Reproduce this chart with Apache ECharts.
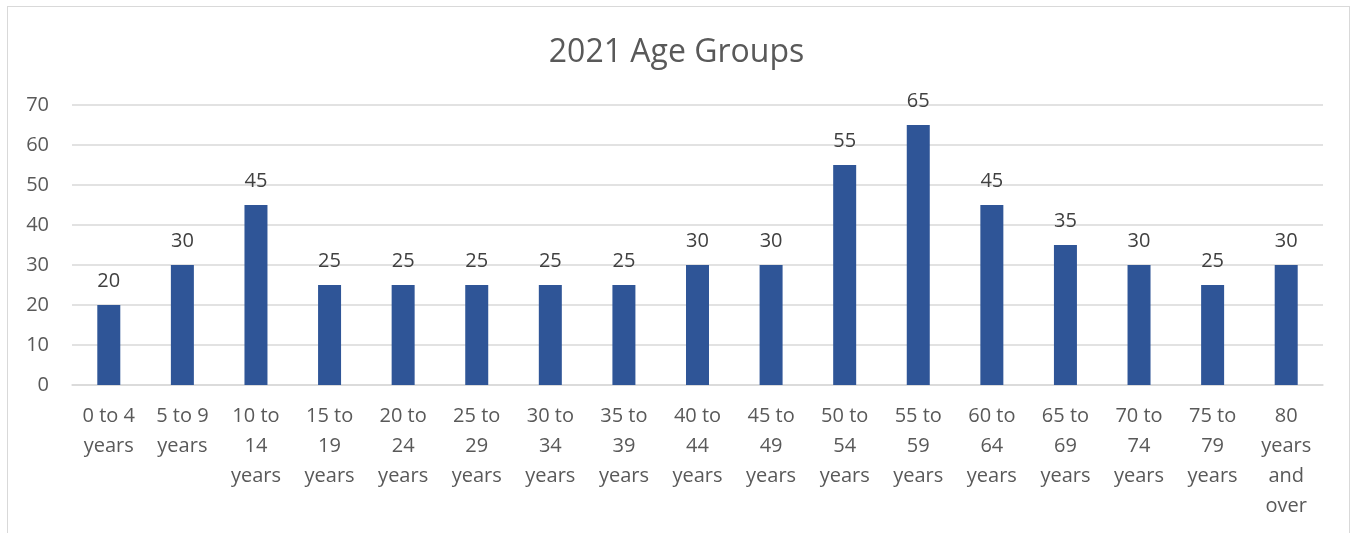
<!DOCTYPE html>
<html>
<head>
<meta charset="utf-8">
<script src="https://cdn.jsdelivr.net/npm/echarts@6/dist/echarts.min.js"></script>
<style>
  html, body { margin: 0; padding: 0; background: #fff; }
  #chart { width: 1353px; height: 533px; }
  #frame { position: absolute; left: 7px; top: 6px; width: 1343px; height: 540px; border: 1.5px solid #d9d9d9; box-sizing: border-box; pointer-events: none; }
</style>
</head>
<body>
<div id="chart"></div>
<div id="frame"></div>
<script>
const categories = [
    '0 to 4\nyears', '5 to 9\nyears', '10 to\n14\nyears', '15 to\n19\nyears',
    '20 to\n24\nyears', '25 to\n29\nyears', '30 to\n34\nyears', '35 to\n39\nyears',
    '40 to\n44\nyears', '45 to\n49\nyears', '50 to\n54\nyears', '55 to\n59\nyears',
    '60 to\n64\nyears', '65 to\n69\nyears', '70 to\n74\nyears', '75 to\n79\nyears',
    '80\nyears\nand\nover'
];
const counts = [20, 30, 45, 25, 25, 25, 25, 25, 30, 30, 55, 65, 45, 35, 30, 25, 30];
const yTicks = { min: 0, max: 70, interval: 10 };

const font = '"Open Sans", "Liberation Sans", sans-serif';
const chart = echarts.init(document.getElementById('chart'));

chart.setOption({
    animation: false,
    title: {
        text: '2021 Age Groups',
        left: 'center',
        top: 32,
        textStyle: { fontFamily: font, fontSize: 32, fontWeight: 'normal', color: '#595959' }
    },
    grid: { left: 72, right: 30, top: 105, bottom: 148 },
    xAxis: {
        type: 'category',
        data: categories,
        axisLine: { lineStyle: { color: '#d9d9d9', width: 1.5 } },
        axisTick: { show: false },
        axisLabel: {
            interval: 0,
            margin: 16,
            fontFamily: font,
            fontSize: 20,
            lineHeight: 30,
            color: '#595959'
        }
    },
    yAxis: {
        type: 'value',
        min: yTicks.min,
        max: yTicks.max,
        interval: yTicks.interval,
        axisLine: { show: false },
        axisTick: { show: false },
        splitLine: { lineStyle: { color: '#d9d9d9', width: 1.5 } },
        axisLabel: { margin: 23, fontFamily: font, fontSize: 20, color: '#595959' }
    },
    series: [{
        type: 'bar',
        data: counts,
        barWidth: 23,
        itemStyle: { color: '#2F5597' },
        label: {
            show: true,
            position: 'top',
            distance: 14,
            fontFamily: font,
            fontSize: 20,
            color: '#404040'
        }
    }]
});
</script>
</body>
</html>
